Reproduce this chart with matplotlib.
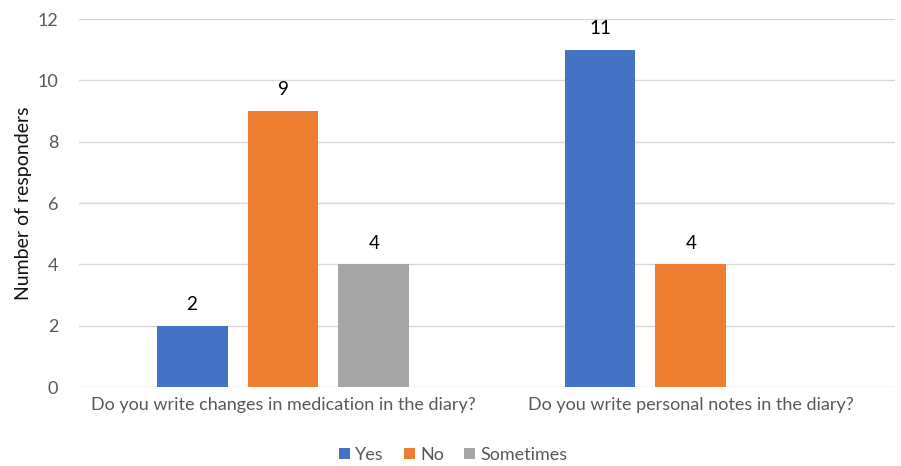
import numpy as np
import matplotlib.pyplot as plt

plt.rcParams['font.family'] = ['Lato', 'DejaVu Sans']

# datos de la encuesta
questions = ["Do you write changes in medication in the diary?",
             "Do you write personal notes in the diary?"]
series_names = ["Yes", "No", "Sometimes"]
yes_counts = [2, 11]
no_counts = [9, 4]
sometimes_counts = [4, np.nan]   # sin respuesta "Sometimes" en la segunda pregunta
colors = ["#4472C4", "#ED7D31", "#A5A5A5"]

fig = plt.figure(figsize=(9.01, 4.66), dpi=100)
ax = fig.add_axes([0.0877, 0.1695, 0.9056, 0.7895])

x = np.arange(len(questions))
width = 0.174
step = 0.223

for i, (name, vals, col) in enumerate(zip(series_names,
                                          [yes_counts, no_counts, sometimes_counts],
                                          colors)):
    pos = x + (i - 1) * step
    vals = np.array(vals, dtype=float)
    mask = ~np.isnan(vals)
    bars = ax.bar(pos[mask], vals[mask], width=width, color=col, label=name, zorder=3)
    for b, v in zip(bars, vals[mask]):
        ax.text(b.get_x() + b.get_width() / 2, v + 0.42, f"{int(v)}",
                ha="center", va="bottom", fontsize=13.5, color="black")

ax.set_xlim(-0.5, 1.5)
ax.set_ylim(0, 12)
ax.set_yticks(range(0, 13, 2))
ax.grid(axis="y", color="#D9D9D9", lw=1, zorder=0)
for s in ["top", "right", "left", "bottom"]:
    ax.spines[s].set_visible(False)
ax.tick_params(axis="y", length=0, pad=15, labelsize=13, labelcolor="#595959")
ax.tick_params(axis="x", length=0, pad=7, labelsize=13, labelcolor="#595959")
ax.set_xticks(x)
ax.set_xticklabels(questions)
ax.set_ylabel("Number of responders", fontsize=14, color="#111111", labelpad=4)

# leyenda centrada en la figura, debajo de las categorías
fig.legend(loc="center", bbox_to_anchor=(0.503, 0.024), ncol=3, frameon=False,
           fontsize=13, labelcolor="#595959", handlelength=0.6, handleheight=0.6,
           handletextpad=0.3, columnspacing=1.1)

fig.savefig("out.png", dpi=100)
